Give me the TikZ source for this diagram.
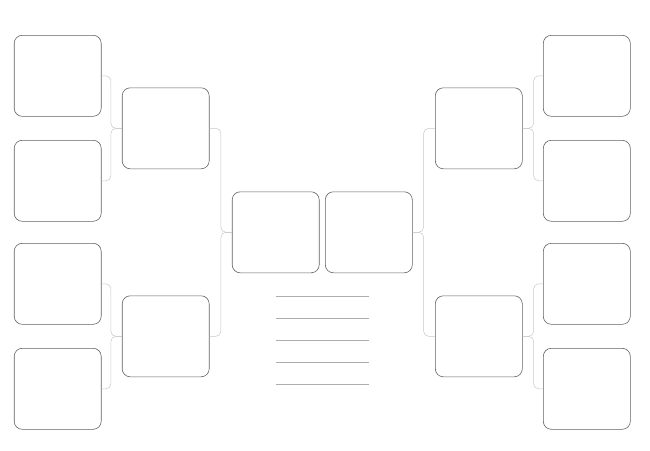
\documentclass[tikz,border=0pt]{standalone}
\usepackage{tikz}

\begin{document}
\begin{tikzpicture}[x=1pt,y=-1pt]
\tikzstyle{slot}=[
	draw=black!62,
	line width=0.6pt,
	rounded corners=8pt,
	minimum width=87pt,
	minimum height=81pt,
	inner sep=0pt ]
\tikzstyle{every node}=[slot]
\tikzstyle{edge from parent}=[draw, black!22, line width=0.5pt, rounded corners=5pt]
\tikzstyle{level 1}=[sibling distance=208pt, level distance=110pt]
\tikzstyle{level 2}=[sibling distance=105pt, level distance=108pt]
\useasboundingbox (0,0) rectangle (650,450);
% left half
\node (lfinal) at (275.7,232.3) {} [grow=left,
	edge from parent path={(\tikzparentnode.west) -- ++(-11pt,0pt) |- (\tikzchildnode.east)}]
	child {node (lsemi1) {}
    child {node (lquart1) {}}
    child {node (lquart2) {}}
  }
	child {node (lsemi2) {}
    child {node (lquart3) {}}
    child {node (lquart4) {}}
  }
;
% right half
\node (rfinal) at (368.8,232.3) {} [grow=right,
	edge from parent path={(\tikzparentnode.east) -- ++(11pt,0pt) |- (\tikzchildnode.west)}]
	child {node (rsemi1) {}
    child {node (rquart1) {}}
    child {node (rquart2) {}}
  }
	child {node (rsemi2) {}
    child {node (rquart3) {}}
    child {node (rquart4) {}}
  }
;
% lines under the final
\foreach \y in {296,318.7,340.3,362,384}
	\draw[black!32, line width=0.7pt] (276,\y) -- (369.3,\y);
\end{tikzpicture}
\end{document}
